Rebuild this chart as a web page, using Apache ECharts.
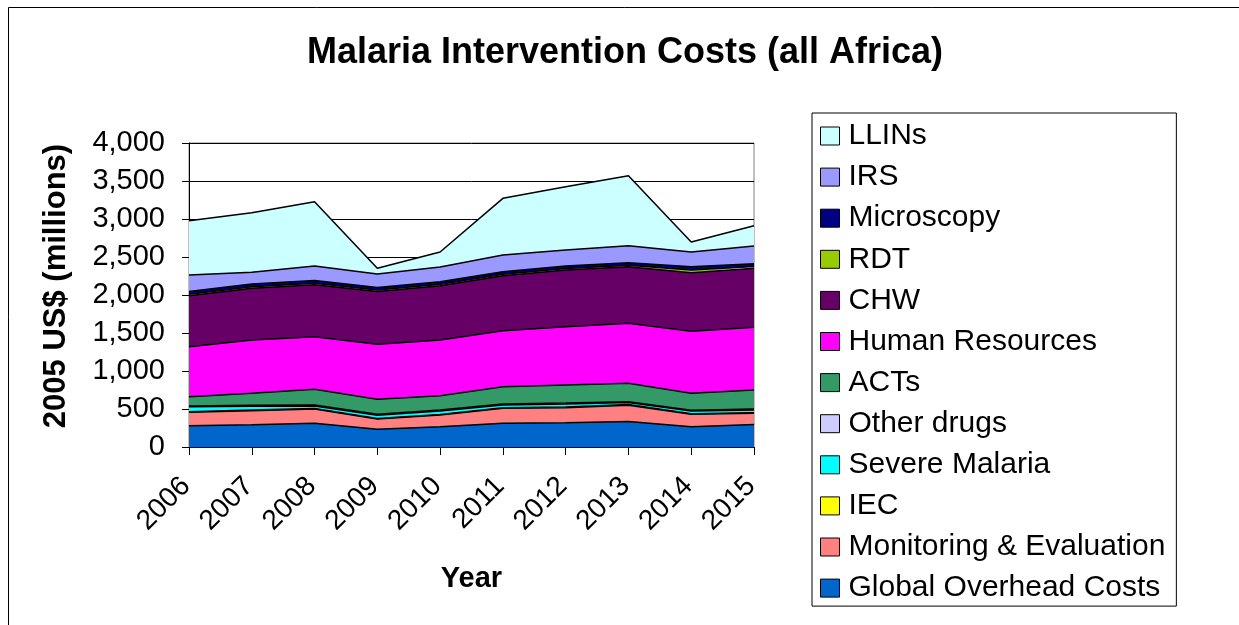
<!DOCTYPE html>
<html>
<head>
<meta charset="utf-8">
<script src="https://cdn.jsdelivr.net/npm/echarts@6/dist/echarts.min.js"></script>
<style>
html,body{margin:0;padding:0;background:#fff;}
#c{width:1239px;height:625px;}
</style>
</head>
<body>
<div id="c"></div>
<script>
const years = ['2006','2007','2008','2009','2010','2011','2012','2013','2014','2015'];
const yTicks = [0, 500, 1000, 1500, 2000, 2500, 3000, 3500, 4000];

const globalOverhead = [280, 292, 311, 232, 267, 311, 320, 335, 267, 295];
const monitoringEval = [176, 186, 189, 136, 154, 198, 197, 215, 163, 148];
const iec            = [8, 8, 8, 8, 8, 8, 8, 8, 8, 8];
const severeMalaria  = [64, 50, 33, 42, 46, 37, 42, 26, 35, 37];
const otherDrugs     = [12, 12, 12, 12, 12, 12, 12, 12, 12, 12];
const acts           = [122, 158, 206, 197, 188, 228, 237, 242, 221, 250];
const humanResources = [658, 702, 693, 724, 733, 737, 767, 789, 816, 825];
const chw            = [670, 682, 683, 694, 714, 723, 746, 746, 772, 776];
const rdt            = [20, 20, 20, 20, 20, 20, 20, 20, 35, 25];
const microscopy     = [35, 35, 35, 33, 33, 33, 33, 32, 44, 36];
const irs            = [218, 153, 192, 178, 193, 219, 210, 224, 193, 233];
const llins          = [715, 785, 846, 75, 198, 746, 833, 921, 131, 267];

const seriesDefs = [
  ['Global Overhead Costs', globalOverhead, '#0066CC'],
  ['Monitoring & Evaluation', monitoringEval, '#FF8080'],
  ['IEC', iec, '#FFFF00'],
  ['Severe Malaria', severeMalaria, '#00FFFF'],
  ['Other drugs', otherDrugs, '#CCCCFF'],
  ['ACTs', acts, '#339966'],
  ['Human Resources', humanResources, '#FF00FF'],
  ['CHW', chw, '#660066'],
  ['RDT', rdt, '#99CC00'],
  ['Microscopy', microscopy, '#000080'],
  ['IRS', irs, '#9999FF'],
  ['LLINs', llins, '#CCFFFF']
];

const FONT = '"Liberation Sans", Arial, sans-serif';
const chart = echarts.init(document.getElementById('c'), null, {renderer: 'canvas'});

const option = {
  backgroundColor: '#ffffff',
  animation: false,
  textStyle: {fontFamily: FONT, color: '#000'},
  graphic: [{
    type: 'rect', shape: {x: 8.5, y: 7.5, width: 1240, height: 700},
    style: {fill: 'none', stroke: '#000', lineWidth: 1}, silent: true, z: -10
  }],
  title: {
    text: 'Malaria Intervention Costs (all Africa)',
    left: 625, top: 35, textAlign: 'center', padding: 0,
    textStyle: {fontFamily: FONT, fontSize: 36, fontWeight: 'bold', color: '#000'}
  },
  grid: {
    left: 189, right: 485, top: 143, bottom: 178,
    show: true, borderColor: '#808080', borderWidth: 1, backgroundColor: '#fff'
  },
  legend: {
    orient: 'vertical', left: 812, top: 113,
    padding: [8, 11, 3, 8],
    itemGap: 11.1, itemWidth: 19, itemHeight: 18,
    icon: 'rect',
    borderColor: '#000', borderWidth: 1, backgroundColor: '#fff',
    itemStyle: {borderColor: '#000', borderWidth: 1},
    textStyle: {fontFamily: FONT, fontSize: 30, lineHeight: 30, color: '#000', padding: [0, 0, 0, 4]},
    data: seriesDefs.map(d => d[0]).reverse()
  },
  xAxis: {
    type: 'category', data: years, boundaryGap: false,
    name: 'Year', nameLocation: 'middle', nameGap: 117,
    nameTextStyle: {fontFamily: FONT, fontSize: 29, fontWeight: 'bold', color: '#000'},
    axisLine: {lineStyle: {color: '#000', width: 1}},
    axisTick: {show: true, length: 8, lineStyle: {color: '#000'}},
    axisLabel: {rotate: 45, margin: 32, padding: [0, 4, 0, 0], fontFamily: FONT, fontSize: 28, color: '#000'},
    splitLine: {show: false}
  },
  yAxis: {
    type: 'value', min: yTicks[0], max: yTicks[yTicks.length - 1], interval: 500,
    name: '2005 US$ (millions)', nameLocation: 'middle', nameGap: 117,
    nameTextStyle: {fontFamily: FONT, fontSize: 31, fontWeight: 'bold', color: '#000', padding: [0, 0, 0, 18]},
    axisLine: {show: true, lineStyle: {color: '#000', width: 1}},
    axisTick: {show: true, length: 7, lineStyle: {color: '#000'}},
    axisLabel: {
      margin: 24, fontFamily: FONT, fontSize: 29, color: '#000',
      formatter: v => v.toLocaleString('en-US')
    },
    splitLine: {show: true, lineStyle: {color: '#000', width: 1}}
  },
  series: seriesDefs.map(([name, data, color]) => ({
    name, type: 'line', stack: 'total', data,
    showSymbol: false, symbol: 'none',
    itemStyle: {color: color, borderColor: '#000', borderWidth: 1},
    lineStyle: {color: '#000', width: 1.5},
    areaStyle: {color: color, opacity: 1},
    emphasis: {disabled: true}
  }))
};
chart.setOption(option);
</script>
</body>
</html>
